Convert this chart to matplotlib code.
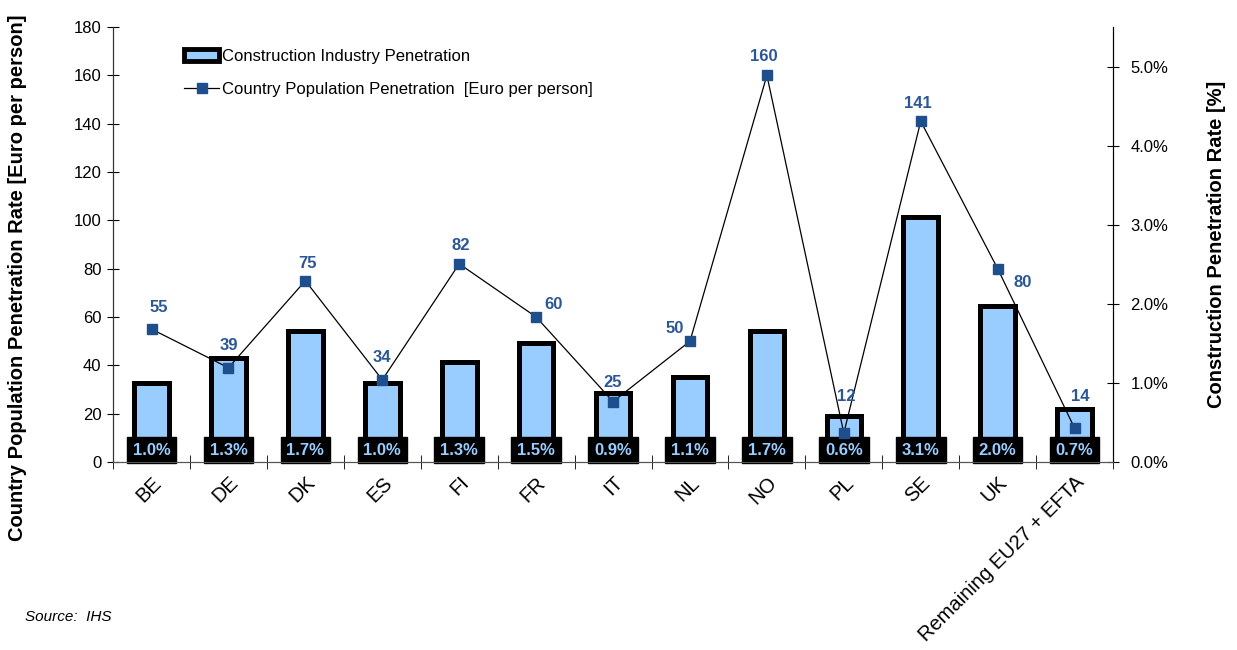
import numpy as np
import matplotlib
matplotlib.use('Agg')
import matplotlib.pyplot as plt
from matplotlib.patches import Patch
from matplotlib.lines import Line2D

plt.rcParams['font.family'] = ['Liberation Sans', 'DejaVu Sans']

countries = ['BE', 'DE', 'DK', 'ES', 'FI', 'FR', 'IT', 'NL', 'NO', 'PL', 'SE', 'UK',
             'Remaining EU27 + EFTA']
# construction industry penetration [%] (bars, right axis)
constr_pct = [1.0, 1.32, 1.66, 1.0, 1.27, 1.5, 0.87, 1.07, 1.66, 0.58, 3.1, 1.97, 0.67]
# country population penetration [Euro per person] (line, left axis)
pop_eur = [55, 39, 75, 34, 82, 60, 25, 50, 160, 12, 141, 80, 14]

# label offsets in pixels (dx, dy) relative to the markers
lbl_off = [(7, 22), (0, 22), (2, 17), (0, 22), (2, 18), (17, 13), (0, 19),
           (-15, 13), (-3, 19), (2, 37), (-3, 18), (25, -14), (6, 32)]

bar_fill = '#99CCFF'
mark_col = '#1F4E8C'
lbl_col = '#2B5797'

fig = plt.figure(figsize=(12.37, 6.5), dpi=100)
ax = fig.add_axes([0.0914, 0.2892, 0.8084, 0.6693])
axr = ax.twinx()

x = np.arange(len(countries))

# bars on the right (percent) axis
axr.bar(x, constr_pct, width=0.45, color=bar_fill, edgecolor='black', linewidth=3.6, zorder=2)
for i, v in enumerate(constr_pct):
    axr.annotate('%.1f%%' % v, (i, 0), xytext=(0, 12), textcoords='offset pixels',
                 ha='center', va='center', fontsize=12, fontweight='bold', color=bar_fill,
                 bbox=dict(boxstyle='square,pad=0.35', fc='black', ec='black'), zorder=5)
axr.set_ylim(0, 5.5)
axr.set_yticks(np.arange(0, 5.01, 1.0))
axr.set_yticklabels(['%.1f%%' % t for t in np.arange(0, 5.01, 1.0)])
axr.set_ylabel('Construction Penetration Rate [%]', fontsize=14.5, fontweight='bold')
axr.yaxis.set_label_coords(1.094, 0.5)
axr.tick_params(axis='y', direction='inout', length=9, labelsize=12, pad=8)

# line on the left axis, drawn above the bars
ax.set_zorder(axr.get_zorder() + 1)
ax.patch.set_visible(False)
ax.plot(x, pop_eur, color='black', linewidth=0.9, marker='s', markersize=6.5,
        markerfacecolor=mark_col, markeredgecolor=mark_col, zorder=3)
for i, v in enumerate(pop_eur):
    dx, dy = lbl_off[i]
    ax.annotate(str(v), (i, v), xytext=(dx, dy), textcoords='offset pixels',
                ha='center', va='center', fontsize=12, fontweight='bold', color=lbl_col)

ax.set_xlim(-0.5, len(countries) - 0.5)
ax.set_ylim(0, 180)
ax.set_yticks(range(0, 181, 20))
ax.tick_params(axis='y', direction='inout', length=9, labelsize=12, pad=4)
ax.set_ylabel('Country Population Penetration Rate [Euro per person]', fontsize=14.5,
              fontweight='bold')
ax.yaxis.set_label_coords(-0.086, 0.423)

ax.set_xticks(x)
ax.set_xticklabels(countries, rotation=45, ha='right', rotation_mode='anchor', fontsize=14.5)
ax.set_xticks(np.arange(-0.5, len(countries), 1.0), minor=True)
ax.tick_params(axis='x', which='major', length=0, pad=8)
ax.tick_params(axis='x', which='minor', direction='inout', length=10)

for a in (ax, axr):
    a.spines['top'].set_visible(False)
    a.spines['bottom'].set_color('#555555')
    a.spines['left'].set_color('#333333')
    a.spines['right'].set_color('black')

handles = [Patch(facecolor=bar_fill, edgecolor='black', linewidth=3.5),
           Line2D([0], [0], color='black', linewidth=0.9, marker='s', markersize=6.5,
                  markerfacecolor=mark_col, markeredgecolor=mark_col)]
ax.legend(handles, ['Construction Industry Penetration',
                    'Country Population Penetration  [Euro per person]'],
          loc='upper left', bbox_to_anchor=(0.056, 0.985), frameon=False, fontsize=12,
          handlelength=2.1, handletextpad=0.2, labelspacing=1.1)

fig.text(0.02, 0.045, 'Source:  IHS', fontsize=11, style='italic')

fig.savefig('out.png', dpi=100)
